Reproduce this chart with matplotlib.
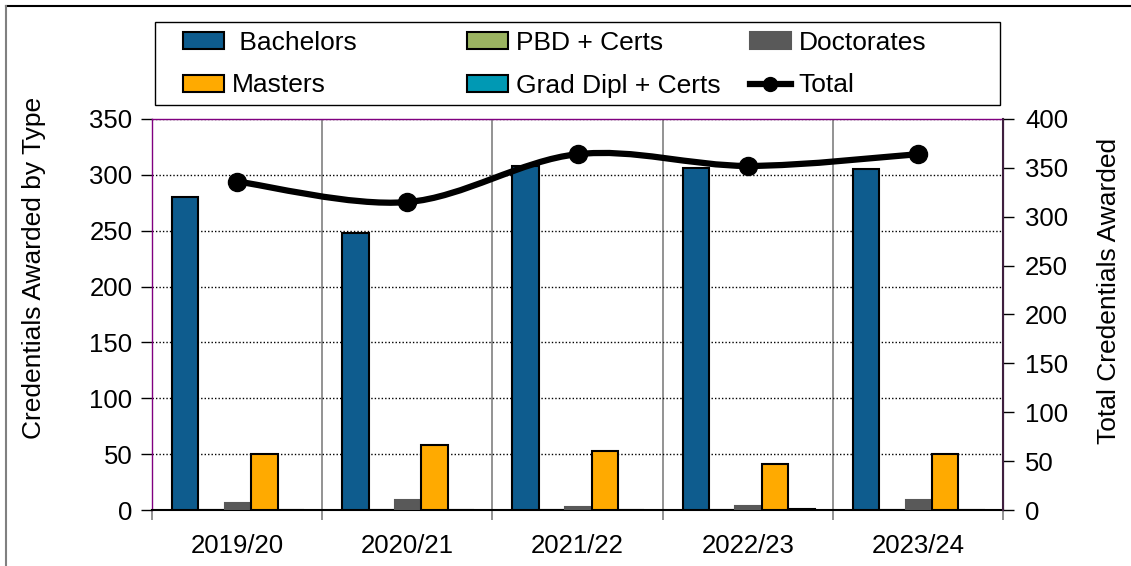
import numpy as np
import matplotlib.pyplot as plt
from matplotlib.path import Path
from matplotlib.patches import PathPatch, Patch, Rectangle
from matplotlib.lines import Line2D

plt.rcParams['font.family'] = ['Liberation Sans', 'DejaVu Sans']

# chart data
years = ['2019/20', '2020/21', '2021/22', '2022/23', '2023/24']
bachelors = [280, 248, 308, 306, 305]
pbd_certs = [0, 0, 0, 0, 0]
doctorates = [6, 9, 3, 4, 9]
masters = [50, 58, 53, 41, 50]
grad_dipl = [0, 0, 0, 1, 0]
total = [336, 315, 364, 352, 364]

series = [
    ('Bachelors', bachelors, '#0E5C8E', 'black'),
    ('PBD + Certs', pbd_certs, '#9BB461', 'black'),
    ('Doctorates', doctorates, '#595959', '#595959'),
    ('Masters', masters, '#FFAA00', 'black'),
    ('Grad Dipl + Certs', grad_dipl, '#0099B4', 'black'),
]

W, H = 1131, 566
fs = 18.5
fig = plt.figure(figsize=(W / 100, H / 100), dpi=100)
ax = fig.add_axes([152 / W, 1 - 510 / H, 851 / W, 391 / H])
ax2 = ax.twinx()

x = np.arange(len(years))
w = 0.155
for k, (name, vals, col, ec) in enumerate(series):
    ax.bar(x + (k - 2) * w + 0.005, vals, w, color=col, edgecolor=ec,
           linewidth=1.5, zorder=3)

ax.set_xlim(-0.5, len(years) - 0.5)
ax.set_ylim(0, 350)
ax.set_yticks(np.arange(0, 351, 50))
ax.set_xticks(x)
ax.set_xticklabels(years)
ax.set_xticks(np.arange(-0.5, len(years), 1), minor=True)
ax.tick_params(axis='x', which='major', length=0, labelsize=fs, pad=17)
ax.tick_params(axis='x', which='minor', length=7, color='#808080', width=1.2)
ax.tick_params(axis='y', length=8, color='black', width=1, labelsize=fs, pad=6)
for t in ax.yaxis.get_ticklines():
    t.set_linestyle((0, (1, 1)))
ax.grid(axis='y', color='black', linestyle=(0, (1, 1.5)), linewidth=1, zorder=1)
for b in np.arange(0.5, len(years) - 1, 1):
    ax.axvline(b, color='#808080', linewidth=1.2, zorder=1)
ax.set_ylabel('Credentials Awarded by Type', fontsize=19)
ax.yaxis.set_label_coords(-0.1246, 0.619)

for s in ['top', 'left']:
    ax.spines[s].set_color('#800080')
    ax.spines[s].set_linewidth(1)
ax.spines['bottom'].set_linewidth(1.5)
ax2.spines['right'].set_color('#3F1F3F')
ax2.spines['right'].set_linewidth(1.5)
for s in ['top', 'left', 'bottom']:
    ax2.spines[s].set_visible(False)

ax2.set_ylim(0, 400)
ax2.set_yticks(np.arange(0, 401, 50))
ax2.tick_params(axis='y', length=8, width=1, color='black', labelsize=fs, pad=8)
ax2.set_ylabel('Total Credentials Awarded', fontsize=19)
ax2.yaxis.set_label_coords(1.1105, 0.56)

# smoothed total line (bezier through the data points)
pts = np.column_stack([x, total]).astype(float)
ext = np.vstack([pts[0], pts, pts[-1]])
verts = [tuple(pts[0])]
codes = [Path.MOVETO]
for i in range(len(pts) - 1):
    p0, p1, p2, p3 = ext[i], ext[i + 1], ext[i + 2], ext[i + 3]
    c1 = p1 + (p2 - p0) / 6
    c2 = p2 - (p3 - p1) / 6
    verts += [tuple(c1), tuple(c2), tuple(p2)]
    codes += [Path.CURVE4] * 3
ax2.add_patch(PathPatch(Path(verts, codes), facecolor='none', edgecolor='black',
                        linewidth=4.5, zorder=4))
ax2.plot(x, total, 'o', color='black', markersize=13, zorder=5)

# legend: three equal columns inside one frame
cols = [
    [Patch(facecolor='#0E5C8E', edgecolor='black', linewidth=1.5, label=' Bachelors'),
     Patch(facecolor='#FFAA00', edgecolor='black', linewidth=1.5, label='Masters')],
    [Patch(facecolor='#9BB461', edgecolor='black', linewidth=1.5, label='PBD + Certs'),
     Patch(facecolor='#0099B4', edgecolor='black', linewidth=1.5, label='Grad Dipl + Certs')],
    [Patch(facecolor='#595959', edgecolor='#595959', linewidth=1.5, label='Doctorates'),
     Line2D([], [], color='black', linewidth=4.5, marker='o', markersize=10, label='Total')],
]
col_x = [183, 467, 750]
for cx, hs in zip(col_x, cols):
    leg = fig.legend(handles=hs, loc='center left', fontsize=19,
                     bbox_to_anchor=(cx / W, 1 - 64 / H), frameon=False,
                     handlelength=1.55, handleheight=0.6, handletextpad=0.3,
                     borderpad=0, labelspacing=0.72, borderaxespad=0)
fig.add_artist(Rectangle((155 / W, 1 - 105 / H), 845 / W, 83 / H,
                         transform=fig.transFigure, facecolor='none',
                         edgecolor='black', linewidth=1))

# outer chart frame
fig.add_artist(Line2D([6 / W, 1], [1 - 6 / H] * 2, color='black', linewidth=1.5))
fig.add_artist(Line2D([6 / W] * 2, [0, 1 - 6 / H], color='#808080', linewidth=1.5))

fig.savefig('out.png', dpi=100)
